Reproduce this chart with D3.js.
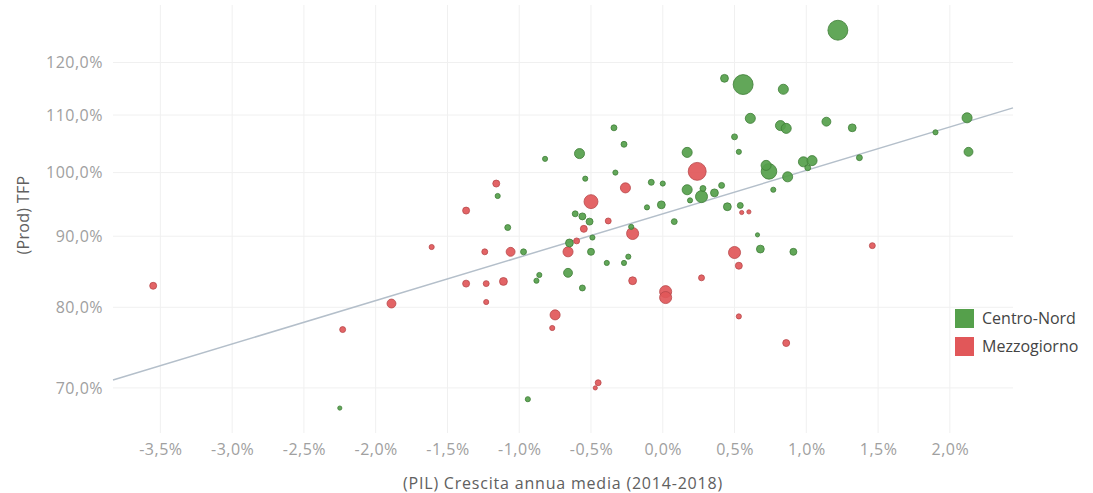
<!DOCTYPE html>
<html>
<head>
<meta charset="utf-8">
<script src="https://cdn.jsdelivr.net/npm/d3@7"></script>
<style>
body { margin: 0; background: #fff; }
svg { font-family: "Open Sans", sans-serif; }
</style>
</head>
<body>
<svg></svg>
<script>
const groups = ["Centro-Nord", "Mezzogiorno"];
const colors = ["#55a04b", "#e15759"];
const strokes = ["#3f7d37", "#b8474a"];

// [PIL growth %, TFP %, size]
const centroNord = [
  [1.22, 126.6, 90], [0.56, 115.7, 90], [0.43, 116.9, 14], [0.84, 114.8, 23],
  [0.61, 109.4, 23], [0.82, 108.1, 23], [0.86, 107.6, 23], [1.14, 108.8, 18],
  [1.32, 107.7, 14], [2.12, 109.5, 23], [1.90, 106.9, 6], [2.13, 103.5, 18],
  [1.37, 102.5, 8], [0.50, 106.1, 8], [0.53, 103.5, 6], [0.72, 101.2, 23],
  [0.74, 100.2, 55], [0.87, 99.3, 23], [0.98, 101.8, 23], [1.04, 102.0, 23],
  [1.01, 100.8, 8], [0.77, 97.2, 6], [0.41, 97.9, 8], [0.45, 94.5, 14],
  [0.54, 94.7, 8], [0.68, 88.1, 14], [0.91, 87.7, 11], [0.66, 90.2, 4],
  [-0.34, 107.7, 8], [-0.27, 104.8, 8], [-0.58, 103.2, 23], [0.17, 103.4, 23],
  [-0.82, 102.3, 6], [-0.33, 100.0, 6], [-0.54, 99.0, 6], [-0.08, 98.4, 8],
  [0.00, 98.2, 6], [0.17, 97.2, 23], [0.28, 97.4, 8], [0.27, 96.1, 33],
  [0.36, 96.7, 14], [0.19, 95.5, 6], [-0.01, 94.8, 14], [-0.11, 94.4, 6],
  [0.08, 92.2, 8], [-1.15, 96.2, 6], [-0.61, 93.4, 8], [-0.56, 93.0, 11],
  [-0.51, 92.2, 11], [-1.08, 91.3, 8], [-0.22, 91.4, 6], [-0.49, 89.8, 6],
  [-0.65, 89.0, 14], [-0.50, 87.7, 11], [-0.97, 87.7, 8], [-0.39, 86.1, 6],
  [-0.27, 86.1, 6], [-0.24, 87.0, 6], [-0.86, 84.4, 6], [-0.88, 83.6, 6],
  [-0.66, 84.7, 18], [-0.56, 82.6, 8], [-0.94, 68.7, 6], [-2.25, 67.7, 4]
];

const mezzogiorno = [
  [-3.55, 82.9, 11], [-2.23, 77.1, 8], [-1.89, 80.5, 18], [-1.61, 88.4, 6],
  [-1.37, 93.9, 11], [-1.16, 98.2, 11], [-1.24, 87.7, 8], [-1.06, 87.7, 18],
  [-1.37, 83.2, 11], [-1.23, 83.2, 8], [-1.11, 83.5, 14], [-1.23, 80.7, 6],
  [-0.75, 79.0, 23], [-0.77, 77.3, 6], [-0.66, 87.7, 23], [-0.60, 89.3, 8],
  [-0.55, 91.1, 11], [-0.50, 95.3, 44], [-0.38, 92.3, 8], [-0.26, 97.5, 23],
  [-0.21, 90.4, 33], [-0.21, 83.6, 14], [0.02, 82.1, 33], [0.02, 81.3, 33],
  [0.24, 100.2, 73], [0.27, 84.0, 8], [0.50, 87.6, 33], [0.53, 85.7, 11],
  [0.53, 78.8, 6], [0.55, 93.6, 4], [0.60, 93.7, 4], [0.86, 75.4, 11],
  [1.46, 88.6, 8], [-0.45, 70.6, 8], [-0.47, 70.0, 4]
];

const xTicks = [-3.5, -3.0, -2.5, -2.0, -1.5, -1.0, -0.5, 0.0, 0.5, 1.0, 1.5, 2.0];
const yTicks = [70, 80, 90, 100, 110, 120];
const xDomain = [-3.83, 2.44];
const yDomain = [64.96, 132];

// exponential trend: TFP = trendBase * exp(trendRate * PIL)
const trendBase = 93.4, trendRate = 0.0719;

const W = 1093, H = 493;
const svg = d3.select("svg").attr("width", W).attr("height", H);

const x = d3.scaleLinear().domain(xDomain).range([113, 1013]);
const y = d3.scaleLog().domain(yDomain).range([433, 5]);
const r = d3.scaleSqrt().domain([0, 100]).range([0, 10.5]);

const pct = d => d3.format(".1f")(d).replace(".", ",").replace("\u2212", "-") + "%";

// grid
svg.append("g").selectAll("line").data(xTicks).join("line")
  .attr("x1", d => x(d)).attr("x2", d => x(d))
  .attr("y1", 5).attr("y2", 433)
  .attr("stroke", "#f0f0f0");
svg.append("g").selectAll("line").data(yTicks).join("line")
  .attr("x1", 113).attr("x2", 1013)
  .attr("y1", d => y(d)).attr("y2", d => y(d))
  .attr("stroke", "#f0f0f0");

// axes
const gx = svg.append("g").attr("transform", "translate(0,433)")
  .call(d3.axisBottom(x).tickValues(xTicks).tickFormat(pct).tickSize(0).tickPadding(11));
const gy = svg.append("g").attr("transform", "translate(113,0)")
  .call(d3.axisLeft(y).tickValues(yTicks).tickFormat(pct).tickSize(0).tickPadding(10));
[gx, gy].forEach(g => {
  g.select(".domain").remove();
  g.selectAll("text").attr("fill", "#a0a0a0").style("font-size", "16px")
    .style("letter-spacing", "0.5px")
    .style("font-family", "\"Open Sans\", sans-serif");
});

// trend line
const trendLine = d3.line().x(d => x(d)).y(d => y(trendBase * Math.exp(trendRate * d)));
svg.append("path").datum(xDomain)
  .attr("d", trendLine)
  .attr("fill", "none")
  .attr("stroke", "#b4bfca")
  .attr("stroke-width", 1.5);

// points
const points = [];
centroNord.forEach(d => points.push({ x: d[0], y: d[1], s: d[2], g: 0 }));
mezzogiorno.forEach(d => points.push({ x: d[0], y: d[1], s: d[2], g: 1 }));
points.sort((a, b) => b.s - a.s);

svg.append("g").selectAll("circle").data(points).join("circle")
  .attr("cx", d => x(d.x))
  .attr("cy", d => y(d.y))
  .attr("r", d => r(d.s))
  .attr("fill", d => colors[d.g])
  .attr("stroke", d => strokes[d.g])
  .attr("stroke-width", 0.8)
  .attr("fill-opacity", 0.92);

// axis titles
svg.append("text")
  .attr("transform", "translate(29,215) rotate(-90)")
  .attr("text-anchor", "middle")
  .attr("fill", "#606060")
  .style("font-size", "16px")
  .style("letter-spacing", "0.3px")
  .text("(Prod) TFP");
svg.append("text")
  .attr("x", 563).attr("y", 489)
  .attr("text-anchor", "middle")
  .attr("fill", "#606060")
  .style("font-size", "16px")
  .style("letter-spacing", "0.8px")
  .text("(PIL) Crescita annua media (2014-2018)");

// legend
const legend = svg.append("g").attr("transform", "translate(955,309)");
groups.forEach((name, i) => {
  legend.append("rect").attr("x", 0).attr("y", i * 28)
    .attr("width", 19).attr("height", 19).attr("fill", colors[i]);
  legend.append("text").attr("x", 27).attr("y", i * 28 + 15)
    .attr("fill", "#444").style("font-size", "16px").text(name);
});
</script>
</body>
</html>
